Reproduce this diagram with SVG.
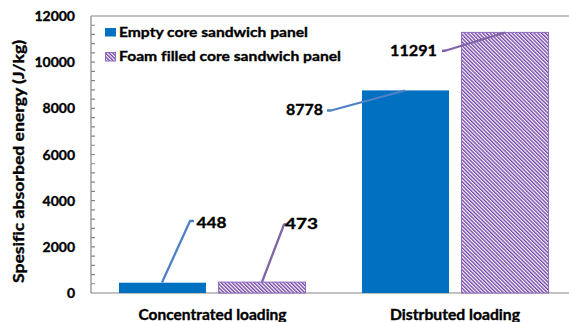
<svg xmlns="http://www.w3.org/2000/svg" width="569" height="322" viewBox="0 0 569 322">
  <defs>
    <pattern id="hatch" patternUnits="userSpaceOnUse" width="2.6" height="2.6" patternTransform="rotate(-45)">
      <rect x="0" y="0" width="2.6" height="2.6" fill="#ffffff"/>
      <rect x="0" y="0" width="1.4" height="2.6" fill="#7446aa"/>
    </pattern>
    <style>
      text { font-family: Lato, "Liberation Sans", Arial, sans-serif; font-weight: bold; fill: #000; stroke: #000; stroke-width: 0.35; font-variant-ligatures: none; }
      .tick { font-size: 14px; text-anchor: end; }
      .legend { font-size: 14px; }
      .value { font-size: 15px; }
      .cat { font-size: 14.5px; text-anchor: middle; }
      .axis { stroke: #868686; stroke-width: 1.2; fill: none; }
      .empty { fill: #0070c0; }
      .foam { fill: url(#hatch); stroke: #8e6cc0; stroke-width: 1; }
      .lead-blue { stroke: #4f81c4; stroke-width: 2.3; fill: none; stroke-linejoin: round; }
      .lead-purple { stroke: #8064a8; stroke-width: 2.3; fill: none; stroke-linejoin: round; }
    </style>
  </defs>

  <rect x="0" y="0" width="569" height="322" fill="#ffffff"/>

  <!-- plot frame and axes -->
  <g id="axes">
    <line class="axis" x1="91" y1="16" x2="569" y2="16"/>
    <line class="axis" x1="91" y1="16" x2="91" y2="293"/>
    <line class="axis" x1="91" y1="293" x2="569" y2="293"/>
    <path class="axis" stroke-width="1" d="M91 283.77h4M91 274.53h4M91 265.3h4M91 256.07h4M91 246.83h4M91 237.6h4M91 228.37h4M91 219.13h4M91 209.9h4M91 200.67h4M91 191.43h4M91 182.2h4M91 172.97h4M91 163.73h4M91 154.5h4M91 145.27h4M91 136.03h4M91 126.8h4M91 117.57h4M91 108.33h4M91 99.1h4M91 89.87h4M91 80.63h4M91 71.4h4M91 62.17h4M91 52.93h4M91 43.7h4M91 34.47h4M91 25.23h4"/>
  </g>

  <!-- y axis labels -->
  <g id="y-labels">
    <text class="tick" x="75" y="298">0</text>
    <text class="tick" x="75" y="251.8">2000</text>
    <text class="tick" x="75" y="205.7">4000</text>
    <text class="tick" x="75" y="159.5">6000</text>
    <text class="tick" x="75" y="113.3">8000</text>
    <text class="tick" x="75" y="67.2">10000</text>
    <text class="tick" x="75" y="21">12000</text>
  </g>
  <text id="y-title" transform="translate(24,161.5) rotate(-90)" text-anchor="middle" font-size="15" textLength="243" lengthAdjust="spacingAndGlyphs">Spesific absorbed energy (J/kg)</text>

  <!-- bars -->
  <g id="bar-empty-concentrated"><rect class="empty" x="119" y="282.7" width="87" height="10.3"/></g>
  <g id="bar-foam-concentrated"><rect class="foam" x="218.5" y="282.1" width="87" height="10.9"/></g>
  <g id="bar-empty-distributed"><rect class="empty" x="362" y="90.4" width="87" height="202.6"/></g>
  <g id="bar-foam-distributed"><rect class="foam" x="461.5" y="32.4" width="87" height="260.6"/></g>

  <!-- value leader lines -->
  <g id="connectors">
    <polyline class="lead-blue" points="162,282.5 190,221 194,221"/>
    <polyline class="lead-purple" points="262,282 284,224.5 287,224.5"/>
    <polyline class="lead-blue" points="327,110.5 331,110.5 405,90.5"/>
    <polyline class="lead-purple" points="442,51 446,50.5 505,32.5"/>
  </g>

  <!-- value labels -->
  <g id="values">
    <text class="value" x="196.5" y="228" textLength="30" lengthAdjust="spacingAndGlyphs">448</text>
    <text class="value" x="285" y="229" textLength="33" lengthAdjust="spacingAndGlyphs">473</text>
    <text class="value" x="286" y="115" textLength="37" lengthAdjust="spacingAndGlyphs">8778</text>
    <text class="value" x="390" y="56" textLength="47" lengthAdjust="spacingAndGlyphs">11291</text>
  </g>

  <!-- legend -->
  <g id="legend">
    <rect class="empty" x="105" y="28" width="11" height="8.5"/>
    <text class="legend" x="119" y="37" textLength="189" lengthAdjust="spacingAndGlyphs">Empty core sandwich panel</text>
    <rect class="foam" x="105.5" y="52.5" width="10" height="8.5"/>
    <text class="legend" x="119" y="61" textLength="222" lengthAdjust="spacingAndGlyphs">Foam filled core sandwich panel</text>
  </g>

  <!-- category labels -->
  <g id="x-labels">
    <text class="cat" x="212.5" y="320" textLength="148" lengthAdjust="spacingAndGlyphs">Concentrated loading</text>
    <text class="cat" x="455" y="320" textLength="130" lengthAdjust="spacingAndGlyphs">Distrbuted loading</text>
  </g>
</svg>
